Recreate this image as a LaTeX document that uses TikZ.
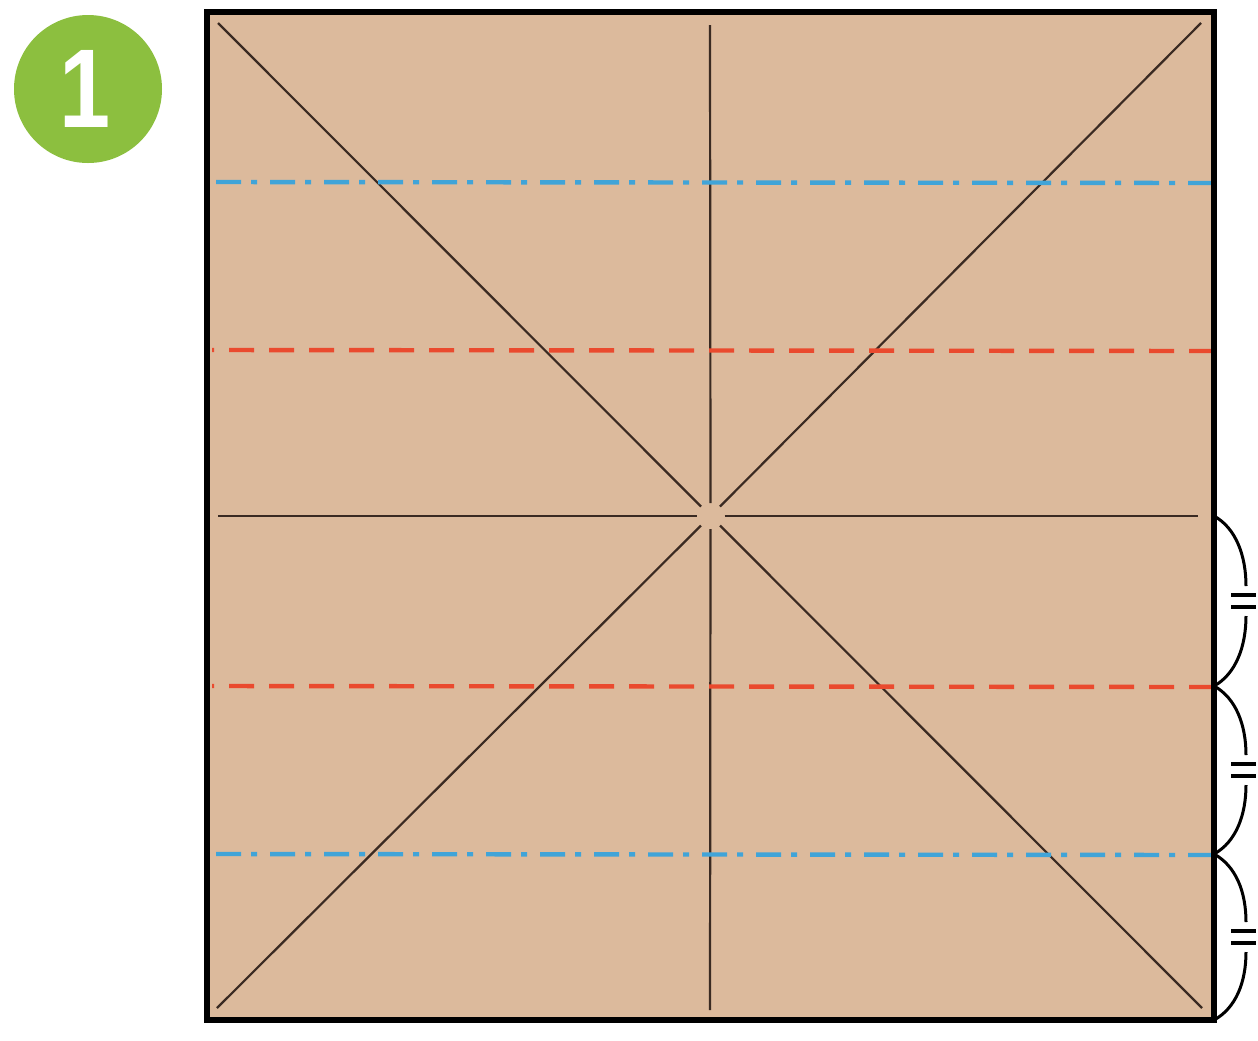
\documentclass[tikz,border=0pt]{standalone}
\usepackage{fontspec}
\setmainfont{Liberation Sans}
\usetikzlibrary{calc}
\definecolor{paper}{HTML}{DCBA9C}
\definecolor{badge}{HTML}{8CBF3F}
\definecolor{crease}{HTML}{3A2A22}
\definecolor{valley}{HTML}{EA4A2E}
\definecolor{mountain}{HTML}{40A4D8}
\tikzset{
  creaseline/.style={draw=crease,line width=1.1pt},
  valleyline/.style={draw=valley,line width=2.2pt,dash pattern=on 12.5pt off 7.5pt,dash phase=11.5pt},
  mountainline/.style={draw=mountain,line width=2.2pt,dash pattern=on 12.5pt off 5pt on 3pt off 6.5pt,dash phase=25pt},
  markarc/.style={draw=black,line width=1.5pt},
  eqline/.style={draw=black,line width=1.9pt},
}
\begin{document}
\begin{tikzpicture}[x=0.5pt,y=-0.5pt]
\useasboundingbox (0,0) rectangle (1258,1040);
\fill[white] (0,0) rectangle (1258,1040);
% badge
\fill[badge] (88,89) circle (74);
\node[text=white,font=\bfseries\fontsize{56}{56}\selectfont,inner sep=0pt,xscale=0.82] (num) at (85,89) {1};
% paper
\coordinate (TL) at (207,12);
\coordinate (BR) at (1214,1020);
\coordinate (C) at (710.5,516);
\fill[paper] (TL) rectangle (BR);
% creases
\draw[creaseline] (218,23) -- ($(C)+(-9.5,-9.5)$);
\draw[creaseline] ($(C)+(9.5,9.5)$) -- (1202,1008);
\draw[creaseline] (1201,23) -- ($(C)+(9.5,-9.5)$);
\draw[creaseline] ($(C)+(-9.5,9.5)$) -- (217,1008);
\draw[creaseline] (710,25) -- ($(C)+(0,-13)$);
\draw[creaseline] ($(C)+(0,13)$) -- (710,1010);
\draw[creaseline] (218,516) -- ($(C)+(-14,0)$);
\draw[creaseline] ($(C)+(14,0)$) -- (1198,516);
% fold lines
\draw[mountainline] (212,182) -- (1211,183);
\draw[valleyline] (212,350) -- (1211,351);
\draw[valleyline] (212,686) -- (1211,687);
\draw[mountainline] (212,854) -- (1211,855);
% border
\draw[line width=2.8pt,black] (TL) rectangle (BR);
% equal division marks
\coordinate (m0) at (1214,516);
\coordinate (m1) at (1214,686);
\coordinate (m2) at (1214,854);
\coordinate (m3) at (1214,1020);
\foreach \a/\b in {m0/m1,m1/m2,m2/m3}{
  \path (\a) -- (\b) coordinate[pos=0.5] (mid);
  \draw[markarc] (\a) .. controls ($(\a)+(22,12)$) and ($(mid)+(32,-45)$) .. ($(mid)+(32,-15)$);
  \draw[markarc] ($(mid)+(32,15)$) .. controls ($(mid)+(32,45)$) and ($(\b)+(22,-12)$) .. (\b);
  \draw[eqline] ($(mid)+(17,-6)$) -- ($(mid)+(42,-6)$);
  \draw[eqline] ($(mid)+(17,6)$) -- ($(mid)+(42,6)$);
}
\end{tikzpicture}
\end{document}
